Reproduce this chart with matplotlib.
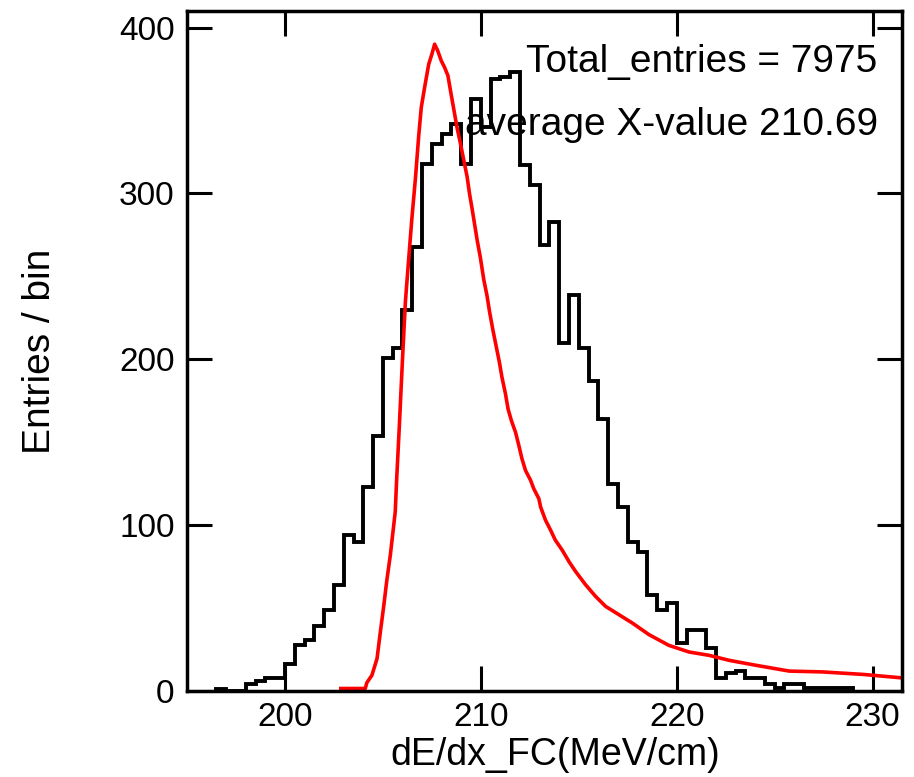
import numpy as np
import matplotlib.pyplot as plt

plt.rcParams['font.family'] = ['Liberation Sans', 'DejaVu Sans']

# histogram: bins of 0.5 starting at 196.5
bin_start = 196.5
bin_width = 0.5
counts = [1, 0, 0, 4, 6, 8, 8, 16, 28, 31, 39, 49, 64, 94, 90, 123, 154, 201, 207, 230,
          268, 318, 330, 336, 342, 318, 357, 340, 369, 370, 373, 317, 305, 269, 283, 210,
          239, 207, 187, 164, 125, 111, 90, 84, 58, 49, 53, 29, 37, 37, 26, 8, 11, 12, 8,
          8, 4, 2, 4, 4, 2, 2, 2, 2, 2]

# fitted curve (red)
fit_x = [202.85, 204.1, 204.18, 204.44, 204.7, 204.87, 205.04, 205.2, 205.38, 205.63,
         205.7, 205.84, 206.0, 206.15, 206.3, 206.48, 206.66, 206.83, 206.96, 207.13,
         207.34, 207.5, 207.64, 207.8, 207.98, 208.15, 208.32, 208.45, 208.6, 208.78,
         208.96, 209.13, 209.3, 209.42, 209.55, 209.81, 209.98, 210.15, 210.32, 210.44,
         210.61, 210.78, 210.95, 211.08, 211.26, 211.39, 211.56, 211.77, 211.94, 212.1,
         212.28, 212.54, 212.7, 212.96, 213.05, 213.3, 213.56, 213.8, 214.15, 214.5,
         214.84, 215.35, 215.86, 216.37, 217.05, 217.73, 218.58, 219.6, 220.63, 221.65,
         222.67, 224.04, 225.74, 227.44, 229.5, 231.4]
fit_y = [1.5, 1.5, 5, 9.5, 19.5, 35.6, 51, 66.7, 82, 108,
         127, 160, 200, 235, 258, 285, 309, 335, 352, 364,
         378, 384, 390, 386, 380, 376, 371, 362, 352, 340,
         330, 320, 310, 300, 291, 272, 261, 248, 238, 229,
         218, 208, 198, 189, 179, 170, 163, 156, 148, 140,
         133, 127, 122, 116, 111, 103, 97, 91, 85, 78,
         72, 64, 57, 51, 46, 41, 34, 27.5, 23.5, 21.5,
         18.5, 15.5, 12, 11.5, 10, 8]

x_ticks = [200, 210, 220, 230]
y_ticks = [0, 100, 200, 300, 400]

fig = plt.figure(figsize=(9.14, 7.77), dpi=100)
ax = fig.add_axes([0.2046, 0.1107, 0.7823, 0.8751])

edges = bin_start + bin_width * np.arange(len(counts) + 1)
ax.stairs(counts, edges, color='black', lw=2.8, baseline=0)
ax.plot(fit_x, fit_y, color='red', lw=2.6)

ax.set_xlim(195, 231.5)
ax.set_ylim(0, 410)
ax.set_xticks(x_ticks)
ax.set_yticks(y_ticks)
ax.tick_params(direction='in', length=18, width=2.2, top=True, right=True,
               labelsize=24, colors='black')
ax.tick_params(axis='x', pad=8)
ax.tick_params(axis='y', pad=9)
for s in ax.spines.values():
    s.set_linewidth(2.5)

ax.set_xlabel('dE/dx_FC(MeV/cm)', fontsize=27)
ax.set_ylabel('Entries / bin', fontsize=28)
ax.xaxis.set_label_coords(0.515, -0.068)
ax.yaxis.set_label_coords(-0.18, 0.5)

ax.text(0.966, 0.91, 'Total_entries = 7975', transform=ax.transAxes,
        ha='right', va='baseline', fontsize=28)
ax.text(0.966, 0.818, 'average X-value 210.69', transform=ax.transAxes,
        ha='right', va='baseline', fontsize=28)

fig.savefig('out.png', dpi=100)
